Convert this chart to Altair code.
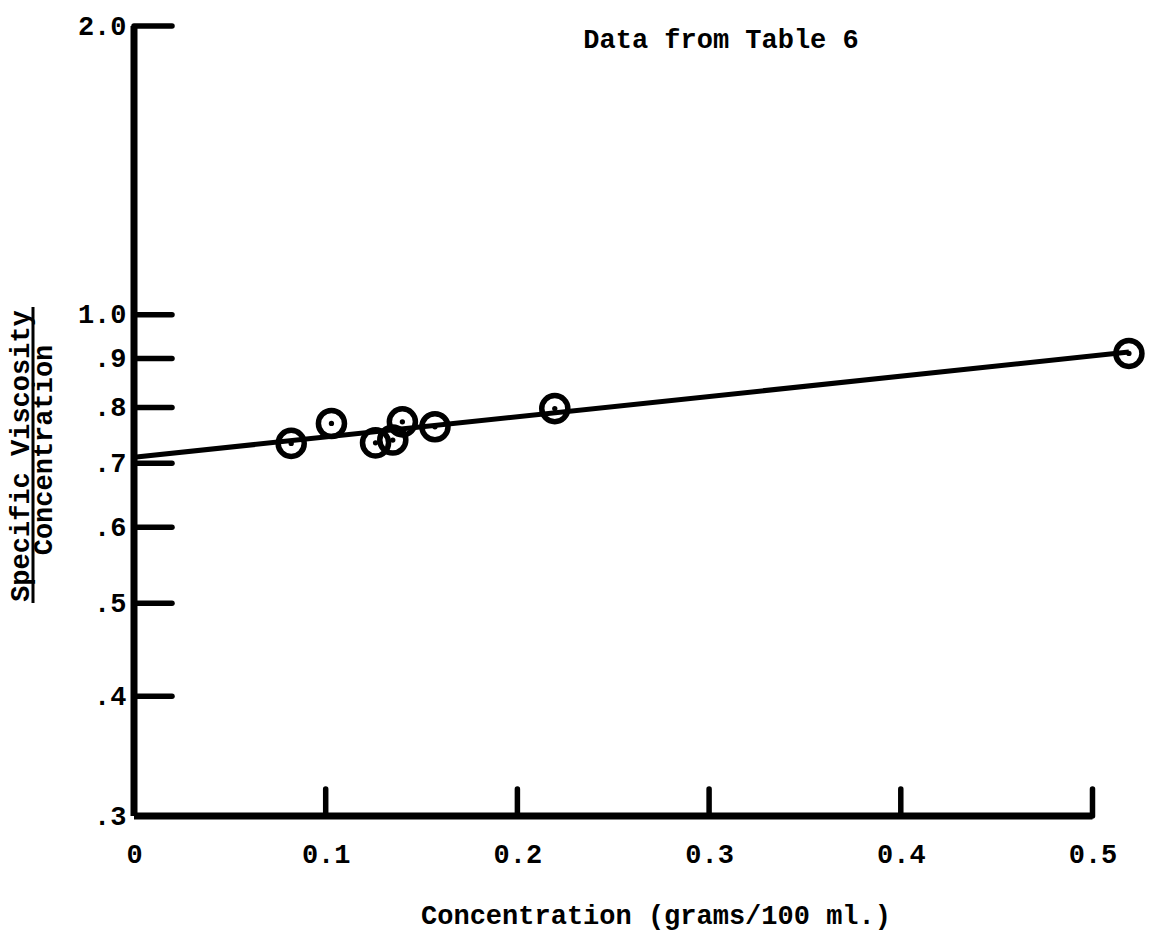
import altair as alt
import pandas as pd

# Data
conc = [0.082, 0.103, 0.126, 0.135, 0.140, 0.157, 0.2195, 0.519]
visc = [0.734, 0.770, 0.735, 0.740, 0.773, 0.764, 0.798, 0.911]

fit_x = [0.0, 0.519]
fit_y = [0.710, 0.914]

y_ticks = [2.0, 1.0, 0.9, 0.8, 0.7, 0.6, 0.5, 0.4]
y_labels = [2.0, 1.0, 0.9, 0.8, 0.7, 0.6, 0.5, 0.4, 0.3]
x_ticks = [0.1, 0.2, 0.3, 0.4, 0.5]
x_labels = [0.0, 0.1, 0.2, 0.3, 0.4, 0.5]

FONT = "Liberation Mono"
FW = "bold"
FS = 27
W, H = 1016, 790

xs = alt.Scale(domain=[0, 0.53], nice=False, zero=False)
ys = alt.Scale(type="log", domain=[0.3, 2.0], nice=False)

pts = pd.DataFrame({"x": conc, "y": visc})
fit = pd.DataFrame({"x": fit_x, "y": fit_y})
yt = pd.DataFrame({"y": y_ticks})
xt = pd.DataFrame({"x": x_ticks})

x_axis = alt.Axis(values=x_labels, domain=False, ticks=False, grid=False,
                  labelFont=FONT, labelFontSize=FS, labelFontWeight=FW, labelColor="black",
                  labelPadding=25, labelFlush=False, title=None,
                  labelExpr="datum.value == 0 ? '0' : format(datum.value, '.1f')")
y_axis = alt.Axis(values=y_labels, domain=False, ticks=False, grid=False,
                  labelFont=FONT, labelFontSize=FS, labelFontWeight=FW, labelColor="black",
                  labelPadding=8, labelFlush=False, title=None,
                  labelExpr="datum.value >= 1 ? format(datum.value, '.1f') : replace(format(datum.value, '.1f'), '0.', '.')")

base = alt.Chart(pts)

# axis lines
yline = alt.Chart(pd.DataFrame({"y": [0.3], "y2": [2.0]})).mark_rule(
    color="black", strokeWidth=7).encode(
    x=alt.value(0),
    y=alt.Y("y:Q", scale=ys, axis=y_axis),
    y2="y2:Q")
xline = alt.Chart(pd.DataFrame({"x": [0.0], "x2": [0.5]})).mark_rule(
    color="black", strokeWidth=7).encode(
    y=alt.value(H),
    x=alt.X("x:Q", scale=xs, axis=x_axis),
    x2="x2:Q")

ytick = alt.Chart(yt).mark_rule(color="black", strokeWidth=5.5, strokeCap="round").encode(
    y=alt.Y("y:Q", scale=ys), x=alt.value(0), x2=alt.value(38))
xtick = alt.Chart(xt).mark_rule(color="black", strokeWidth=5.5, strokeCap="round").encode(
    x=alt.X("x:Q", scale=xs), y=alt.value(H), y2=alt.value(H - 27))

fitline = alt.Chart(fit).mark_line(color="black", strokeWidth=5).encode(
    x=alt.X("x:Q", scale=xs), y=alt.Y("y:Q", scale=ys))

circles = base.mark_point(shape="circle", filled=False, color="black",
                          strokeWidth=5.5, size=680, opacity=1).encode(
    x=alt.X("x:Q", scale=xs), y=alt.Y("y:Q", scale=ys))
dots = base.mark_point(shape="circle", filled=True, color="black",
                       size=28, opacity=1).encode(
    x=alt.X("x:Q", scale=xs), y=alt.Y("y:Q", scale=ys))

note = alt.Chart(pd.DataFrame({"t": ["Data from Table 6"]})).mark_text(
    font=FONT, fontSize=FS, fontWeight=FW, color="black", align="center", baseline="middle").encode(
    text="t:N", x=alt.value(587), y=alt.value(14))

xtitle = alt.Chart(pd.DataFrame({"t": ["Concentration (grams/100 ml.)"]})).mark_text(
    font=FONT, fontSize=FS, fontWeight=FW, color="black", align="center", baseline="middle").encode(
    text="t:N", x=alt.value(522), y=alt.value(890))

ytitle1 = alt.Chart(pd.DataFrame({"t": ["Specific Viscosity"]})).mark_text(
    font=FONT, fontSize=FS, fontWeight=FW, color="black", align="center", baseline="middle", angle=270).encode(
    text="t:N", x=alt.value(-113), y=alt.value(430))
ytitle2 = alt.Chart(pd.DataFrame({"t": ["Concentration"]})).mark_text(
    font=FONT, fontSize=FS, fontWeight=FW, color="black", align="center", baseline="middle", angle=270).encode(
    text="t:N", x=alt.value(-90), y=alt.value(424))
underline = alt.Chart(pd.DataFrame({"a": [0]})).mark_rule(color="black", strokeWidth=3).encode(
    x=alt.value(-101), y=alt.value(281), y2=alt.value(577))

chart = alt.layer(
    yline, xline, ytick, xtick, fitline, circles, dots,
    note, xtitle, ytitle1, ytitle2, underline
).properties(
    width=W, height=H,
    autosize=alt.AutoSizeParams(type="none"),
    padding={"left": 134, "top": 26, "right": 2, "bottom": 123},
    background="white"
).configure_view(stroke=None)

chart.save("out.html", embed_options={"renderer": "svg", "actions": False})
